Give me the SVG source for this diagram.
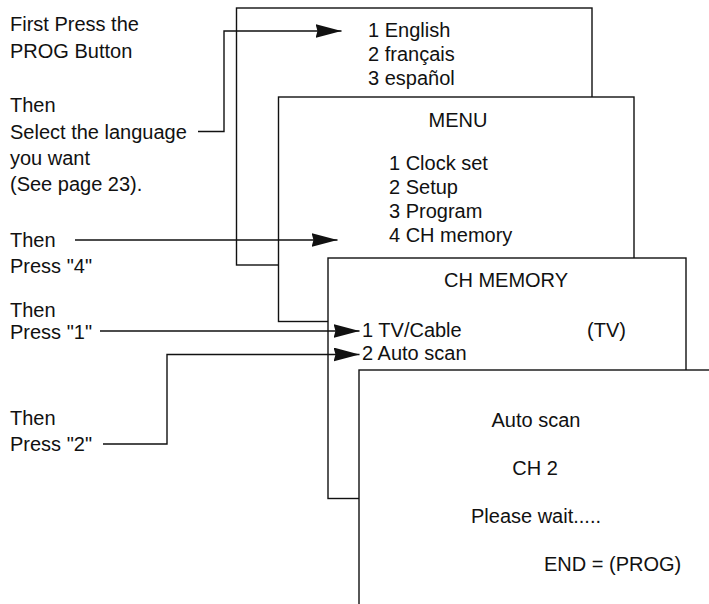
<svg xmlns="http://www.w3.org/2000/svg" width="709" height="604" viewBox="0 0 709 604">
<style>
text{font-family:"Liberation Sans",Arial,Helvetica,sans-serif;font-size:20px;fill:#111}
.c{text-anchor:middle}
.box{fill:#fff;stroke:#111;stroke-width:1.4}
.conn{fill:none;stroke:#111;stroke-width:1.4}
</style>
<defs>
<marker id="ah" markerUnits="userSpaceOnUse" markerWidth="28" markerHeight="16" refX="26" refY="7" orient="auto">
<path d="M0,0 L26,7 L0,14 L2,7 Z" fill="#111"/>
</marker>
</defs>
<rect width="709" height="604" fill="#fff"/>
<g id="labels">
<text x="10" y="31">First Press the</text>
<text x="10" y="58">PROG Button</text>
<text x="10" y="112">Then</text>
<text x="10" y="139">Select the language</text>
<text x="10" y="165">you want</text>
<text x="10" y="191">(See page 23).</text>
<text x="10" y="247">Then</text>
<text x="10" y="273">Press "4"</text>
<text x="10" y="317">Then</text>
<text x="10" y="339">Press "1"</text>
<text x="10" y="425">Then</text>
<text x="10" y="451">Press "2"</text>
</g>
<g id="lang-screen">
<rect class="box" x="236.5" y="8" width="355.5" height="257"/>
<text x="368" y="37">1 English</text>
<text x="368" y="61">2 français</text>
<text x="368" y="85">3 español</text>
</g>
<g id="menu-screen">
<rect class="box" x="278.5" y="97" width="355.5" height="224.5"/>
<text class="c" x="458" y="127">MENU</text>
<text x="389" y="170">1 Clock set</text>
<text x="389" y="194">2 Setup</text>
<text x="389" y="218">3 Program</text>
<text x="389" y="242">4 CH memory</text>
</g>
<g id="chmemory-screen">
<rect class="box" x="328" y="258" width="358" height="240.5"/>
<text class="c" x="506" y="287">CH MEMORY</text>
<text x="362" y="337">1 TV/Cable</text>
<text x="587" y="337">(TV)</text>
<text x="362" y="360">2 Auto scan</text>
</g>
<g id="autoscan-screen">
<rect class="box" x="359" y="370" width="400" height="300"/>
<text class="c" x="536" y="427">Auto scan</text>
<text class="c" x="535" y="475">CH 2</text>
<text class="c" x="536" y="523">Please wait.....</text>
<text x="544" y="571">END = (PROG)</text>
</g>
<g id="connectors">
<path class="conn" d="M198,131.5 H224 V31 H341.5" marker-end="url(#ah)"/>
<path class="conn" d="M75,240 H337.5" marker-end="url(#ah)"/>
<path class="conn" d="M100,331 H359.5" marker-end="url(#ah)"/>
<path class="conn" d="M103,444 H167 V354.5 H359.5" marker-end="url(#ah)"/>
</g>
</svg>
